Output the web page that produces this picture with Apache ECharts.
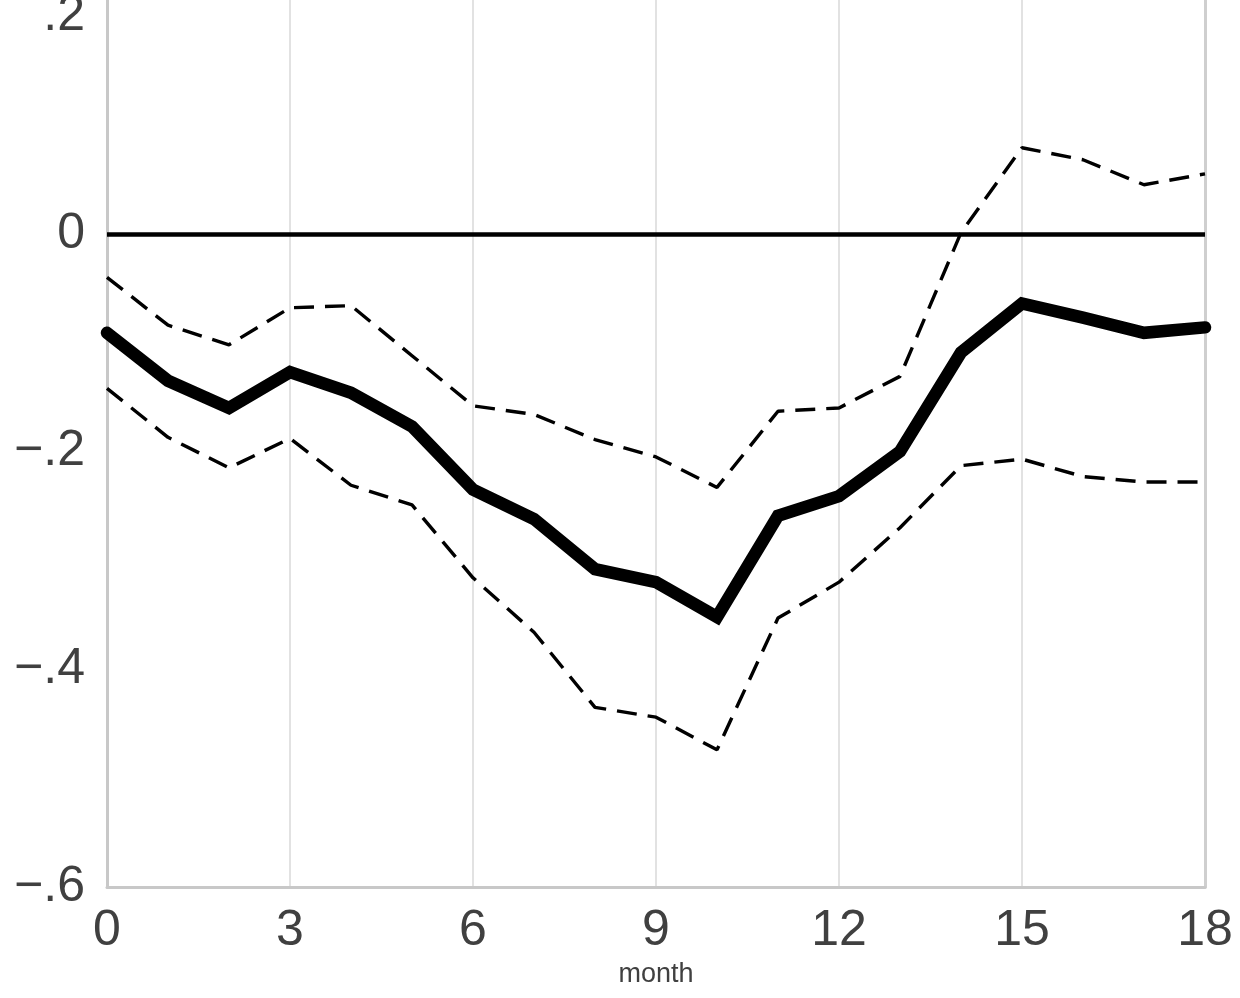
<!DOCTYPE html>
<html>
<head>
<meta charset="utf-8">
<script src="https://cdn.jsdelivr.net/npm/echarts@6/dist/echarts.min.js"></script>
<style>html,body{margin:0;padding:0;background:#fff}#c{width:1240px;height:998px}</style>
</head>
<body>
<div id="c"></div>
<script>
var months = [0,1,2,3,4,5,6,7,8,9,10,11,12,13,14,15,16,17,18];
var estimate = [-0.091,-0.135,-0.160,-0.127,-0.146,-0.177,-0.235,-0.262,-0.308,-0.320,-0.352,-0.259,-0.241,-0.200,-0.109,-0.064,-0.077,-0.091,-0.086];
var upperBand = [-0.040,-0.084,-0.102,-0.068,-0.066,-0.112,-0.158,-0.166,-0.189,-0.205,-0.233,-0.163,-0.160,-0.131,0.001,0.079,0.068,0.045,0.055];
var lowerBand = [-0.142,-0.187,-0.215,-0.188,-0.231,-0.249,-0.316,-0.366,-0.435,-0.444,-0.474,-0.353,-0.320,-0.270,-0.213,-0.207,-0.223,-0.228,-0.228];
var xTicks = [0,3,6,9,12,15,18];
var yTicks = [-0.6,-0.4,-0.2,0,0.2];

function pairs(vals){ return months.map(function(m,i){ return [m, vals[i]]; }); }
function fmtY(v){
  var r = Math.round(v*10)/10;
  if (yTicks.indexOf(r) < 0 || Math.abs(v - r) > 1e-6) return '';
  if (r === 0) return '0';
  return (r < 0 ? '\u2212' : '') + Math.abs(r).toFixed(1).replace(/^0/, '');
}
var chart = echarts.init(document.getElementById('c'));
var font = 'Liberation Sans, Arial, sans-serif';
chart.setOption({
  animation: false,
  backgroundColor: '#fff',
  grid: {left: 107, right: 35, top: 0, bottom: 111, outerBoundsMode: 'none', containLabel: false},
  xAxis: {
    type: 'value', min: 0, max: 18, interval: 3,
    name: 'month', nameLocation: 'middle', nameGap: 74,
    nameTextStyle: {fontFamily: font, fontSize: 27, color: '#404040'},
    axisLine: {show: true, onZero: false, lineStyle: {color: '#c8c8c8', width: 3}},
    axisTick: {show: false},
    axisLabel: {fontFamily: font, fontSize: 50, color: '#404040', margin: 19,
      formatter: function(v){ return xTicks.indexOf(v) >= 0 ? String(v) : ''; }},
    splitLine: {show: true, lineStyle: {color: '#d9d9d9', width: 1.5}}
  },
  yAxis: [{
    type: 'value', min: -0.6, max: 0.2147, interval: 0.2,
    axisLine: {show: true, lineStyle: {color: '#c8c8c8', width: 3}},
    axisTick: {show: false},
    axisLabel: {fontFamily: font, fontSize: 50, color: '#404040', margin: 22, formatter: fmtY},
    splitLine: {show: false}
  }, {
    type: 'value', min: -0.6, max: 0.2147, interval: 0.2, position: 'right',
    axisLine: {show: true, lineStyle: {color: '#cfcfcf', width: 3}},
    axisTick: {show: false}, axisLabel: {show: false}, splitLine: {show: false}
  }],
  series: [
    {type: 'line', data: pairs(upperBand), symbol: 'none', z: 3,
     lineStyle: {color: '#000', width: 3.4, type: [20, 11]}},
    {type: 'line', data: pairs(lowerBand), symbol: 'none', z: 3,
     lineStyle: {color: '#000', width: 3.4, type: [20, 11]}},
    {type: 'line', data: pairs(estimate), symbol: 'none', z: 4,
     lineStyle: {color: '#000', width: 12.5, cap: 'round', join: 'miter'},
     markLine: {silent: true, symbol: 'none', label: {show: false},
       lineStyle: {color: '#000', width: 4.5, type: 'solid'},
       data: [[{coord: [0, 0]}, {coord: [18, 0]}]]}}
  ]
});
</script>
</body>
</html>
